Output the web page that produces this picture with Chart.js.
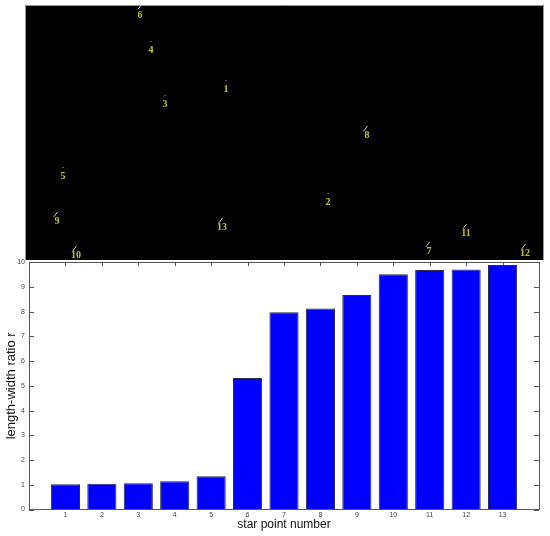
<!DOCTYPE html>
<html>
<head>
<meta charset="utf-8">
<script src="https://cdn.jsdelivr.net/npm/chart.js@4/dist/chart.umd.min.js"></script>
<style>
  html, body { margin: 0; padding: 0; background: #fff; }
  #page { position: relative; width: 550px; height: 536px; overflow: hidden; }
  #imgBox { position: absolute; left: 25px; top: 5px; width: 519px; height: 255px; }
  #barBox { position: absolute; left: 0; top: 254px; width: 550px; height: 282px; }
</style>
</head>
<body>
<div id="page">
  <div id="imgBox"><canvas id="starImage"></canvas></div>
  <div id="barBox"><canvas id="ratioChart"></canvas></div>
</div>
<script>
// === DATOS ===
// posiciones de las etiquetas en la imagen (px de la imagen, origen arriba-izquierda)
const starLabels = ["1", "2", "3", "4", "5", "6", "7", "8", "9", "10", "11", "12", "13"];
const starX = [201, 303, 140, 126, 38, 115, 404, 342, 32, 51, 441, 500, 197];
const starY = [84, 197, 99, 45, 171, 10, 246, 130, 216, 250, 228, 248, 222];
const starTrail = [1, 1, 1, 1, 1, 4, 6, 7, 6, 7, 6, 7, 7];

// grafica de barras
const pointNumbers = [1, 2, 3, 4, 5, 6, 7, 8, 9, 10, 11, 12, 13];
const ratioValues = [1.02, 1.04, 1.06, 1.14, 1.34, 5.32, 7.98, 8.13, 8.67, 9.51, 9.68, 9.70, 9.89];
const yTicks = [0, 1, 2, 3, 4, 5, 6, 7, 8, 9, 10];

// === IMAGEN DE ESTRELLAS (scatter sobre fondo negro) ===
const blackBackground = {
  id: "blackBackground",
  beforeDraw(chart) {
    const { ctx, width, height } = chart;
    ctx.save();
    ctx.fillStyle = "#000";
    ctx.fillRect(0, 0, width, height);
    ctx.strokeStyle = "#9a9a9a";
    ctx.lineWidth = 1;
    ctx.beginPath();
    ctx.moveTo(0.5, height);
    ctx.lineTo(0.5, 0.5);
    ctx.lineTo(width - 0.5, 0.5);
    ctx.lineTo(width - 0.5, height);
    ctx.stroke();
    ctx.restore();
  },
};

const starMarks = {
  id: "starMarks",
  afterDatasetsDraw(chart) {
    const { ctx } = chart;
    const xs = chart.scales.x, ys = chart.scales.y;
    ctx.save();
    ctx.font = "bold 10px 'Liberation Serif', 'DejaVu Serif', serif";
    ctx.textAlign = "center";
    ctx.textBaseline = "middle";
    starLabels.forEach((lab, i) => {
      const px = xs.getPixelForValue(starX[i]);
      const py = ys.getPixelForValue(starY[i]);
      // marca de la estrella
      const ex = px + 0.5, ey = py - 9;
      const len = starTrail[i];
      ctx.strokeStyle = "#cfcfcf";
      ctx.lineWidth = 1;
      ctx.beginPath();
      ctx.moveTo(ex, ey);
      ctx.lineTo(ex - len * 0.6, ey + len * 0.8);
      ctx.stroke();
      ctx.fillStyle = "#c4c41c";
      ctx.fillText(lab, px, py);
    });
    ctx.restore();
  },
};

new Chart(document.getElementById("starImage"), {
  type: "scatter",
  data: {
    datasets: [{
      data: starX.map((x, i) => ({ x: x, y: starY[i] })),
      pointRadius: 0,
      pointHoverRadius: 0,
    }],
  },
  options: {
    responsive: true,
    maintainAspectRatio: false,
    animation: false,
    layout: { padding: 0 },
    scales: {
      x: { type: "linear", min: 0, max: 519, display: false },
      y: { type: "linear", min: 0, max: 255, reverse: true, display: false },
    },
    plugins: { legend: { display: false }, tooltip: { enabled: false } },
  },
  plugins: [blackBackground, starMarks],
});

// === GRAFICA DE BARRAS ===
// marcas de eje hacia dentro y caja completa (estilo matlab)
const innerTicks = {
  id: "innerTicks",
  beforeDatasetsDraw(chart) {
    const { ctx, chartArea: a } = chart;
    const xs = chart.scales.x, ys = chart.scales.y;
    ctx.save();
    ctx.strokeStyle = "#555";
    ctx.lineWidth = 1;
    ctx.beginPath();
    pointNumbers.forEach((n) => {
      const px = Math.round(xs.getPixelForValue(n)) + 0.5;
      ctx.moveTo(px, a.top); ctx.lineTo(px, a.top + 4);
      ctx.moveTo(px, a.bottom); ctx.lineTo(px, a.bottom - 4);
    });
    yTicks.forEach((v) => {
      const py = Math.round(ys.getPixelForValue(v)) + 0.5;
      ctx.moveTo(a.left, py); ctx.lineTo(a.left + 5, py);
      ctx.moveTo(a.right, py); ctx.lineTo(a.right - 5, py);
    });
    ctx.stroke();
    ctx.restore();
  },
  afterDatasetsDraw(chart) {
    const { ctx, chartArea: a } = chart;
    ctx.save();
    ctx.strokeStyle = "#555";
    ctx.lineWidth = 1;
    ctx.strokeRect(Math.round(a.left) + 0.5, Math.round(a.top) + 0.5,
      Math.round(a.right - a.left), Math.round(a.bottom - a.top));
    ctx.restore();
  },
};

new Chart(document.getElementById("ratioChart"), {
  type: "bar",
  data: {
    datasets: [{
      label: "length-width ratio r",
      data: pointNumbers.map((n, i) => ({ x: n, y: ratioValues[i] })),
      backgroundColor: "#0000ff",
      borderColor: "#2a2a4a",
      borderWidth: 1,
      categoryPercentage: 1,
      barPercentage: 0.8,
    }],
  },
  options: {
    responsive: true,
    maintainAspectRatio: false,
    animation: false,
    layout: { padding: { top: 2.5, right: 11, left: 0, bottom: 0 } },
    scales: {
      x: {
        type: "linear",
        offset: false,
        min: 0,
        max: 14,
        afterFit: (s) => { s.height = 26.5; },
        ticks: {
          stepSize: 1,
          autoSkip: false,
          maxRotation: 0,
          padding: 1,
          color: "#444",
          font: { family: "'Liberation Sans', Arial, sans-serif", size: 7 },
          callback: (v) => (v >= 1 && v <= 13 ? String(v) : ""),
        },
        grid: { display: false, drawTicks: false },
        border: { display: false },
        title: {
          display: true,
          text: "star point number",
          color: "#111",
          font: { family: "'Liberation Sans', Arial, sans-serif", size: 12 },
          padding: { top: 0, bottom: 4 },
        },
      },
      y: {
        min: 0,
        max: 10,
        afterFit: (s) => { s.width = 29; },
        ticks: {
          stepSize: 1,
          padding: 4,
          color: "#444",
          font: { family: "'Liberation Sans', Arial, sans-serif", size: 7 },
        },
        grid: { display: false, drawTicks: false },
        border: { display: false },
        title: {
          display: true,
          text: "length-width ratio r",
          color: "#111",
          font: { family: "'Liberation Sans', Arial, sans-serif", size: 13 },
          padding: { top: 4, bottom: 0 },
        },
      },
    },
    plugins: { legend: { display: false }, tooltip: { enabled: false } },
  },
  plugins: [innerTicks],
});
</script>
</body>
</html>
